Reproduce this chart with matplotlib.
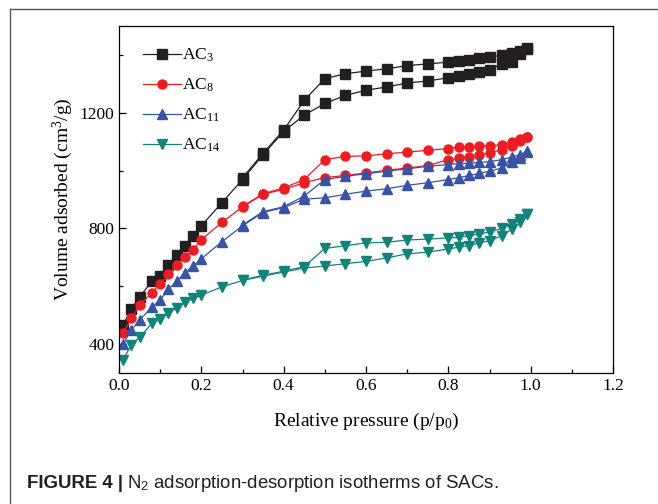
import matplotlib
matplotlib.use("Agg")
import matplotlib.pyplot as plt
from matplotlib.lines import Line2D

plt.rcParams['font.family'] = ['Liberation Serif', 'DejaVu Serif']
plt.rcParams['mathtext.fontset'] = 'custom'
plt.rcParams['mathtext.rm'] = 'Liberation Serif'
plt.rcParams['mathtext.it'] = 'Liberation Serif:italic'
plt.rcParams['mathtext.sf'] = 'Liberation Sans'

# ---- data ----
ads_p = [0.01, 0.03, 0.05, 0.08, 0.10, 0.12, 0.14, 0.16, 0.18, 0.20, 0.25, 0.30,
         0.35, 0.40, 0.45, 0.50, 0.55, 0.60, 0.65, 0.70, 0.75, 0.80, 0.825, 0.85,
         0.875, 0.90, 0.93, 0.955, 0.975, 0.99]
des_p = [0.99, 0.975, 0.955, 0.93, 0.90, 0.875, 0.85, 0.825, 0.80, 0.75, 0.70,
         0.65, 0.60, 0.55, 0.50, 0.45, 0.40, 0.35, 0.30]

ac3_ads = [466, 523, 563, 617, 637, 674, 709, 740, 775, 809, 889, 969, 1055, 1135,
           1192, 1232, 1260, 1278, 1289, 1303, 1310, 1321, 1326, 1335, 1340, 1349,
           1369, 1375, 1403, 1424]
ac3_des = [1420, 1415, 1405, 1398, 1394, 1390, 1384, 1378, 1375, 1369, 1363, 1352,
           1344, 1335, 1318, 1243, 1140, 1060, 975]

ac8_ads = [438, 489, 535, 578, 609, 643, 674, 701, 727, 761, 821, 874, 918, 935,
           958, 976, 983, 992, 1001, 1009, 1017, 1038, 1042, 1047, 1055, 1061,
           1072, 1086, 1104, 1117]
ac8_des = [1117, 1108, 1100, 1089, 1086, 1086, 1083, 1081, 1076, 1070, 1064, 1058,
           1051, 1049, 1038, 969, 940, 920, 876]

ac11_ads = [400, 449, 483, 529, 552, 590, 617, 646, 670, 695, 754, 809, 855, 872,
            901, 906, 918, 929, 937, 949, 958, 969, 975, 983, 990, 998, 1009, 1028,
            1043, 1063]
ac11_des = [1066, 1055, 1047, 1038, 1031, 1028, 1026, 1024, 1021, 1015, 1006, 998,
            989, 980, 969, 912, 875, 858, 812]

ac14_ads = [346, 398, 423, 472, 486, 506, 526, 544, 558, 569, 598, 620, 635, 649,
            663, 670, 678, 686, 698, 712, 718, 729, 735, 740, 750, 757, 775, 798,
            821, 849]
ac14_des = [849, 832, 817, 800, 788, 780, 775, 769, 767, 763, 760, 752, 750, 740,
            731, 668, 652, 638, 622]

labels = ['AC$_{3}$', 'AC$_{8}$', 'AC$_{11}$', 'AC$_{14}$']
colors = ['#231f20', '#ed1c24', '#3953a4', '#11837a']
markers = ['s', 'o', '^', 'v']
series = [(ac3_ads, ac3_des), (ac8_ads, ac8_des), (ac11_ads, ac11_des), (ac14_ads, ac14_des)]

xticks = [0.0, 0.2, 0.4, 0.6, 0.8, 1.0, 1.2]
yticks = [400, 800, 1200]

# ---- figure ----
fig = plt.figure(figsize=(6.58, 5.04), dpi=100)
ax = fig.add_axes([119/658, 1-373/504, (613-119)/658, (373-26)/504])

handles = []
for (ads, des), c, m, lab in zip(series, colors, markers, labels):
    h, = ax.plot(ads_p, ads, color=c, marker=m, ms=6.5, lw=0.9, mec=c, mfc=c, label=lab)
    ax.plot(des_p, des, color=c, marker=m, ms=6.5, lw=0.9, mec=c, mfc=c)
    handles.append(h)

ax.set_xlim(0, 1.2)
ax.set_ylim(300, 1500)
ax.set_xticks(xticks)
ax.set_xticklabels(['%.1f' % t for t in xticks])
ax.set_yticks(yticks)
ax.set_xticks([0.1, 0.3, 0.5, 0.7, 0.9, 1.1], minor=True)
ax.set_yticks([600, 1000, 1400], minor=True)
ax.tick_params(which='both', direction='in', top=False, right=False, labelsize=12.5, width=0.9)
ax.tick_params(which='major', length=5)
ax.tick_params(which='minor', length=3)
for s in ax.spines.values():
    s.set_linewidth(0.9)

ax.set_xlabel('Relative pressure (p/p$_{0}$)', fontsize=14, labelpad=12)
ax.set_ylabel('Volume adsorbed (cm$^{3}$/g)', fontsize=14, labelpad=3)

ax.legend(handles=handles, loc='upper left', bbox_to_anchor=(143/658, 1-47/504),
          bbox_transform=fig.transFigure, frameon=False, fontsize=12.5,
          handlelength=2.2, handletextpad=0.05, labelspacing=0.72,
          borderpad=0, borderaxespad=0)

# outer frame (cropped at right/bottom)
fig.add_artist(Line2D([10/658, 10/658], [0, 1-9/504], color='#555555', lw=1.0, transform=fig.transFigure))
fig.add_artist(Line2D([10/658, 1], [1-9/504, 1-9/504], color='#555555', lw=1.0, transform=fig.transFigure))

# caption
fig.canvas.draw()
r = fig.canvas.get_renderer()
t1 = fig.text(27/658, 1-484/504, 'FIGURE 4 |', family='Liberation Sans', weight='bold',
              fontsize=13.4, va='center', color='#231f20')
bb = t1.get_window_extent(renderer=r)
fig.text((bb.x1 + 4)/658, 1-484/504, r'N$_\mathsf{2}$ adsorption-desorption isotherms of SACs.',
         family='Liberation Sans', fontsize=13.4, va='center', color='#231f20')

fig.savefig('out.png', dpi=100)
